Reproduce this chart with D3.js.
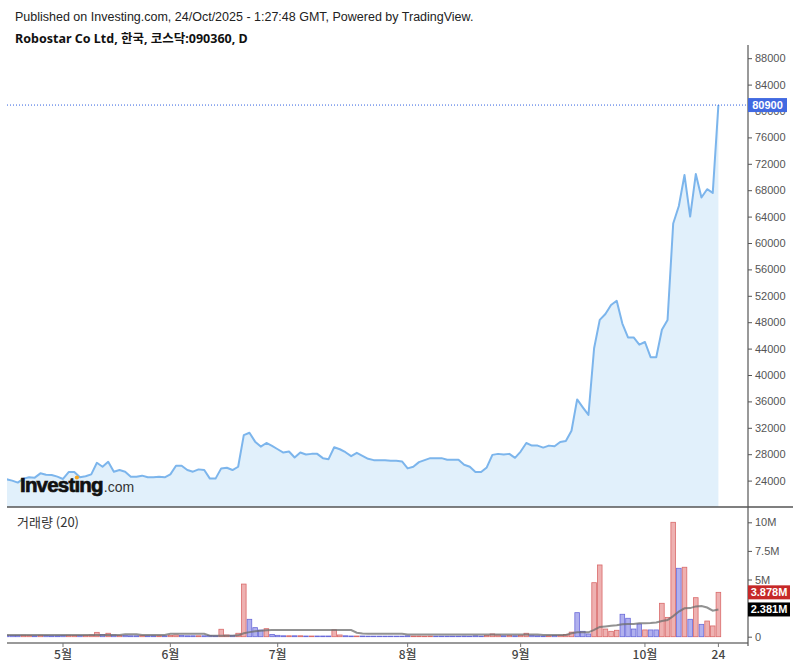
<!DOCTYPE html>
<html><head><meta charset="utf-8">
<script src="https://cdn.jsdelivr.net/npm/d3@7"></script>
<style>body{margin:0;background:#fff}svg{display:block}</style>
</head><body><svg id="c" width="800" height="666"></svg>
<script>
const dates = [
"04-17","04-18","04-21","04-22","04-23","04-24","04-25","04-28","04-29","04-30",
"05-02","05-07","05-08","05-09","05-12","05-13","05-14","05-15","05-16","05-19","05-20","05-21","05-22","05-23","05-26","05-27","05-28","05-29","05-30",
"06-02","06-04","06-05","06-09","06-10","06-11","06-12","06-13","06-16","06-17","06-18","06-19","06-20","06-23","06-24","06-25","06-26","06-27","06-30",
"07-01","07-02","07-03","07-04","07-07","07-08","07-09","07-10","07-11","07-14","07-15","07-16","07-17","07-18","07-21","07-22","07-23","07-24","07-25","07-28","07-29","07-30","07-31",
"08-01","08-04","08-05","08-06","08-07","08-08","08-11","08-12","08-13","08-14","08-18","08-19","08-20","08-21","08-22","08-25","08-26","08-27","08-28","08-29",
"09-01","09-02","09-03","09-04","09-05","09-08","09-09","09-10","09-11","09-12","09-15","09-16","09-17","09-18","09-19","09-22","09-23","09-24","09-25","09-26","09-29","09-30",
"10-01","10-02","10-03","10-10","10-13","10-14","10-15","10-16","10-17","10-20","10-21","10-22","10-23","10-24"];

const prices = [
24200,24000,23700,24300,24500,24450,25100,24900,24850,24600,
24250,25300,25300,24500,24650,24950,26700,26100,26850,25350,
25600,25350,24600,24600,24750,24500,24500,24600,24500,24950,
26250,26250,25600,25350,25700,25600,24300,24300,25850,25950,
25600,26100,30900,31250,29900,29150,29700,29250,28750,28250,
28400,27500,28250,27950,28050,28050,27400,27250,29050,28750,
28300,27700,28200,27750,27300,27100,27100,27100,27000,27000,
26900,25850,26100,26800,27100,27400,27400,27400,27150,27150,
27150,26400,26100,25300,25300,26000,27900,28050,27950,28050,
27450,28400,29700,29300,29300,29000,29300,29200,29850,30000,
31550,36300,35100,33950,44050,48350,49250,50600,51250,47800,
45700,45700,44600,45000,42700,42700,46850,48350,62950,65600,
70300,64000,70450,66900,68150,67600,80900];

// volume in millions of shares
const volumes = [
0.12,0.1,0.1,0.12,0.1,0.08,0.12,0.1,0.08,0.08,
0.1,0.12,0.1,0.1,0.12,0.15,0.38,0.2,0.3,0.15,
0.1,0.1,0.08,0.08,0.1,0.08,0.08,0.08,0.08,0.1,
0.15,0.1,0.08,0.08,0.08,0.08,0.1,0.08,0.65,0.15,
0.12,0.3,4.6,1.52,0.79,0.58,0.7,0.2,0.12,0.08,
0.08,0.08,0.08,0.06,0.06,0.06,0.06,0.06,0.6,0.15,
0.08,0.06,0.06,0.06,0.05,0.05,0.05,0.05,0.05,0.05,
0.05,0.08,0.06,0.06,0.05,0.06,0.05,0.05,0.05,0.05,
0.05,0.06,0.05,0.08,0.05,0.1,0.24,0.15,0.08,0.1,
0.08,0.12,0.3,0.12,0.08,0.06,0.08,0.1,0.12,0.2,
0.4,2.1,0.47,0.24,4.72,6.27,0.67,0.47,0.56,1.96,
1.61,0.67,1.11,0.59,0.59,0.59,2.92,1.69,10.0,5.98,
6.07,1.52,3.41,1.08,1.37,0.94,3.878];

// u = rising bar (red), d = falling bar (blue)
const volDir = (
"d d d u u d u d d d " +
"d u u d u u u d u d " +
"u d d d u d d u d u " +
"u d d d u d d d u u " +
"d u u d d d u d d d " +
"u d u d u d d d u u " +
"d d u d d d d d d d " +
"d d u u u u d d d d " +
"d d d d d u u u d u " +
"d u u d d d u d u u " +
"u d d d u u u u u d " +
"d d d u d d u u u d " +
"u d u d u u u").split(" ");

// 20-day volume moving average (millions)
const volMA = [
0.15,0.15,0.15,0.15,0.15,0.15,0.15,0.15,0.15,0.15,
0.15,0.15,0.15,0.15,0.15,0.15,0.15,0.15,0.15,0.15,
0.15,0.22,0.22,0.22,0.15,0.15,0.15,0.15,0.15,0.25,
0.25,0.25,0.25,0.25,0.25,0.25,0.08,0.08,0.08,0.08,
0.08,0.12,0.3,0.4,0.48,0.52,0.56,0.58,0.58,0.58,
0.58,0.58,0.58,0.58,0.58,0.58,0.58,0.58,0.58,0.58,
0.58,0.58,0.35,0.27,0.25,0.25,0.25,0.25,0.25,0.25,
0.25,0.2,0.2,0.2,0.2,0.2,0.2,0.2,0.2,0.2,
0.2,0.2,0.2,0.2,0.2,0.2,0.2,0.2,0.2,0.2,
0.2,0.2,0.2,0.2,0.2,0.15,0.15,0.15,0.15,0.15,
0.3,0.38,0.38,0.38,0.6,0.85,0.9,0.95,1.0,1.08,
1.1,1.12,1.17,1.18,1.2,1.25,1.37,1.46,1.8,2.2,
2.48,2.5,2.65,2.68,2.55,2.27,2.381];

const monthTicks = [
  {label:"5월", date:"05-02"},{label:"6월", date:"06-02"},{label:"7월", date:"07-01"},
  {label:"8월", date:"08-01"},{label:"9월", date:"09-01"},{label:"10월", date:"10-01"},
  {label:"24", date:"10-24"}];
const priceTicks = [24000,28000,32000,36000,40000,44000,48000,52000,56000,60000,64000,68000,72000,76000,80000,84000,88000];
const volTicks = [0,5,7.5,10];
const volTickLabels = ["0","5M","7.5M","10M"];
const lastPrice = 80900;
const lastVolume = 3.878;
const lastVolMA = 2.381;
const titleLine1 = "Published on Investing.com, 24/Oct/2025 - 1:27:48 GMT, Powered by TradingView.";
const titleLine2 = "Robostar Co Ltd, 한국, 코스닥:090360, D";
const volLegend = "거래량 (20)";

const svg = d3.select("#c");
const W = 800, H = 666;
const left = 7, axisX = 748;
const pTop = 45, pBot = 507, vBot = 643;

svg.append("rect").attr("width",W).attr("height",H).attr("fill","#fff");

const x = d3.scalePoint().domain(dates).range([6.5, 718.4]);
const yP = d3.scaleLinear().domain([20000, 90000]).range([pBot, pTop]);
const yV = d3.scaleLinear().domain([0, 10]).range([636.7, 522.3]);

const defs = svg.append("defs");
defs.append("clipPath").attr("id","cp").append("rect").attr("x",left).attr("y",pTop).attr("width",axisX-left).attr("height",pBot-pTop);
defs.append("clipPath").attr("id","cv").append("rect").attr("x",left).attr("y",pBot+1).attr("width",axisX-left).attr("height",vBot-pBot-1);

const font = "'Liberation Sans', Arial, sans-serif";
const kfont = "'Noto Sans CJK KR', 'Noto Sans', sans-serif";

// header
svg.append("text").attr("x",15).attr("y",20.5).attr("font-family",font).attr("font-size",12.5)
  .attr("fill","#222").text(titleLine1);
svg.append("text").attr("x",15).attr("y",42.5).attr("font-family","'Noto Sans', 'Noto Sans CJK KR', sans-serif").attr("font-size",12.5)
  .attr("font-weight","bold").attr("fill","#111").text(titleLine2);

// price area + line
const gp = svg.append("g").attr("clip-path","url(#cp)");
const idx = d3.range(dates.length);
gp.append("path").datum(idx)
  .attr("d", d3.area().x(i=>x(dates[i])).y0(pBot).y1(i=>yP(prices[i])))
  .attr("fill","#e1f0fb");
gp.append("path").datum(idx)
  .attr("d", d3.line().x(i=>x(dates[i])).y(i=>yP(prices[i])))
  .attr("fill","none").attr("stroke","#7cb5ec").attr("stroke-width",2).attr("stroke-linejoin","round");

// last price dotted line
svg.append("line").attr("x1",left).attr("x2",axisX).attr("y1",yP(lastPrice)).attr("y2",yP(lastPrice))
  .attr("stroke","#2f5fe0").attr("stroke-width",1).attr("stroke-dasharray","1,2");

// logo
const logo = svg.append("g");
const lt = logo.append("text").attr("x",20).attr("y",491.5).attr("font-family",font).attr("font-weight","bold")
  .attr("font-size",20.5).attr("fill","#111").attr("stroke","#111").attr("stroke-width",0.7).attr("letter-spacing",-0.8);
lt.append("tspan").text("Investıng");
const com = logo.append("text").attr("y",491.5).attr("font-family",font).attr("font-size",14).attr("fill","#333").text(".com");
const ltNode = lt.node();
const ext = ltNode.getExtentOfChar(6);
const endX = ltNode.getEndPositionOfChar(8).x;
com.attr("x", endX + 1);
logo.append("circle").attr("cx", ext.x + ext.width/2).attr("cy", 477.5).attr("r",2.1).attr("fill","#f5a623");

// separators and axes
svg.append("line").attr("x1",left).attr("x2",793).attr("y1",pBot).attr("y2",pBot).attr("stroke","#555").attr("stroke-width",1.5);
svg.append("line").attr("x1",left).attr("x2",axisX).attr("y1",vBot).attr("y2",vBot).attr("stroke","#999").attr("stroke-width",2);
svg.append("line").attr("x1",axisX).attr("x2",axisX).attr("y1",pTop).attr("y2",vBot+3).attr("stroke","#555").attr("stroke-width",1.2);

const pAxis = svg.append("g").attr("transform",`translate(${axisX},0)`)
  .call(d3.axisRight(yP).tickValues(priceTicks).tickSize(4).tickPadding(3).tickFormat(d3.format("d")));
pAxis.select(".domain").remove();
pAxis.selectAll("line").attr("stroke","#555");
pAxis.selectAll("text").attr("font-family",font).attr("font-size",11).attr("fill","#555");

const vAxis = svg.append("g").attr("transform",`translate(${axisX},0)`)
  .call(d3.axisRight(yV).tickValues(volTicks).tickSize(4).tickPadding(3).tickFormat((d,i)=>volTickLabels[i]));
vAxis.select(".domain").remove();
vAxis.selectAll("line").attr("stroke","#555");
vAxis.selectAll("text").attr("font-family",font).attr("font-size",11).attr("fill","#555");

// volume bars
const gv = svg.append("g").attr("clip-path","url(#cv)");
const bw = 4.6;
gv.selectAll("rect.v").data(idx).join("rect")
  .attr("x", i=>x(dates[i]) - bw/2)
  .attr("y", i=>yV(volumes[i]))
  .attr("width", bw)
  .attr("height", i=>Math.max(0.5, yV(0) - yV(volumes[i])))
  .attr("fill", i=>volDir[i]==="u" ? "#eeb1b1" : "#b0b0ee")
  .attr("stroke", i=>volDir[i]==="u" ? "#d96a6a" : "#6a6ad9")
  .attr("stroke-width",0.8);
gv.append("path").datum(idx)
  .attr("d", d3.line().x(i=>x(dates[i])).y(i=>yV(volMA[i])))
  .attr("fill","none").attr("stroke","rgba(110,110,110,0.75)").attr("stroke-width",2);

svg.append("text").attr("x",17).attr("y",527).attr("font-family",kfont).attr("font-size",13)
  .attr("fill","#333").text(volLegend);

// x axis ticks
const xa = svg.append("g");
monthTicks.forEach(t=>{
  const xx = x(t.date);
  xa.append("line").attr("x1",xx).attr("x2",xx).attr("y1",vBot).attr("y2",vBot+4).attr("stroke","#777");
  xa.append("text").attr("x",xx).attr("y",659).attr("text-anchor","middle")
    .attr("font-family",kfont).attr("font-size",12).attr("font-weight",500).attr("fill","#444").text(t.label);
});

// value labels
function tag(yc, w, fill, txt){
  svg.append("rect").attr("x",axisX).attr("y",yc-7).attr("width",w).attr("height",14).attr("fill",fill);
  svg.append("text").attr("x",axisX+w/2).attr("y",yc+4).attr("text-anchor","middle")
    .attr("font-family",font).attr("font-size",11).attr("font-weight","bold").attr("fill","#fff").text(txt);
}
tag(yP(lastPrice), 39, "#4169e1", d3.format("d")(lastPrice));
tag(yV(lastVolume), 42, "#c62828", lastVolume.toFixed(3)+"M");
tag(yV(lastVolMA), 42, "#000", lastVolMA.toFixed(3)+"M");
</script></body></html>
